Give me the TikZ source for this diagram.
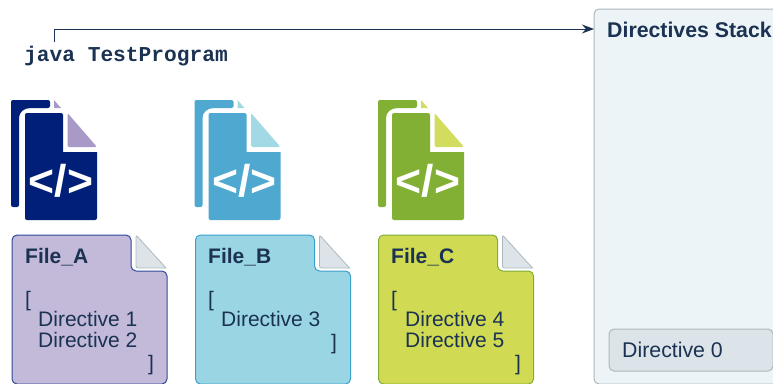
\documentclass[tikz,border=0pt]{standalone}
\usepackage{fontspec}
\setmainfont{Liberation Sans}
\setmonofont{Liberation Mono}
\usetikzlibrary{arrows.meta}
\definecolor{ink}{HTML}{1B3252}
\definecolor{darkA}{HTML}{001F78}\definecolor{lightA}{HTML}{A899C6}
\definecolor{darkB}{HTML}{4FA8CF}\definecolor{lightB}{HTML}{A3D9E4}
\definecolor{darkC}{HTML}{82B035}\definecolor{lightC}{HTML}{D2DC5E}
\definecolor{fillA}{HTML}{C3B9D9}\definecolor{edgeA}{HTML}{2F4A99}
\definecolor{fillB}{HTML}{9AD5E3}\definecolor{edgeB}{HTML}{3AA0CC}
\definecolor{fillC}{HTML}{D0DA52}\definecolor{edgeC}{HTML}{7FAE35}
\definecolor{foldfill}{HTML}{DCE4EA}\definecolor{foldedge}{HTML}{AEB8BC}
\definecolor{stackfill}{HTML}{ECF4F7}
\tikzset{
  txt/.style={anchor=base west,inner sep=0pt,text=ink,font=\fontsize{21}{21}\selectfont},
  head/.style={txt,font=\fontsize{21}{21}\selectfont\bfseries},
  pics/codeicon/.style 2 args={code={
    \fill[#1,rounded corners=2pt] (11,207) -- (11,100) -- (50,100) -- (50,108) -- (33,108)
      .. controls (24,108) and (19,112) .. (19,120) -- (19,207) -- cycle;
    \fill[#2] (54,100) -- (61,108) -- (54,108) -- cycle;
    \fill[#1,rounded corners=2pt] (25,220) -- (25,113) -- (63,113) -- (63,147)
      [sharp corners] -- (63,152) -- (97,152) [rounded corners=2pt] -- (97,220) -- cycle;
    \fill[#2,rounded corners=1.5pt] (67.5,113) -- (97,147) -- (67.5,147) -- cycle;
    \node[inner sep=0pt,text=white,font=\fontsize{44.5}{44.5}\selectfont\bfseries] at (61,181) {</>};
  }},
  pics/docsheet/.style 2 args={code={
    \draw[draw=#2,fill=#1,line width=1pt,rounded corners=5pt]
      (12,384) -- (12,235) -- (131,235) -- (131,271) -- (167,271) -- (167,384) -- cycle;
    \draw[draw=foldedge,fill=foldfill,line width=.8pt,rounded corners=2pt]
      (136,235) [sharp corners] -- (166,268) [rounded corners=2pt] -- (136,268) -- cycle;
  }},
  flow/.style={ink,line width=1pt,-{Stealth[length=12pt,width=9pt]}}
}
\begin{document}
\begin{tikzpicture}[x=1pt,y=-1pt]
\useasboundingbox (0,0) rectangle (773,383);
\clip (0,0) rectangle (773,383);
\pic at (0,0) {codeicon={darkA}{lightA}};
\pic at (183.5,0) {codeicon={darkB}{lightB}};
\pic at (367,0) {codeicon={darkC}{lightC}};
\pic at (0,0) {docsheet={fillA}{edgeA}};
\pic at (183.5,0) {docsheet={fillB}{edgeB}};
\pic at (366.5,0) {docsheet={fillC}{edgeC}};
\draw[draw=foldedge,fill=stackfill,line width=1pt,rounded corners=5pt] (594,9) rectangle (810,384);
\draw[draw=foldedge,fill=foldfill,line width=1pt,rounded corners=5pt] (609,329) rectangle (773,371);
\node[txt,font=\fontsize{21.3}{21.3}\selectfont\bfseries] (stacktitle) at (607,37) {Directives Stack};
\node[txt,font=\fontsize{21.3}{21.3}\selectfont] (dir0) at (622,357) {Directive 0};
\node[anchor=base west,inner sep=0pt,text=ink,font=\fontsize{21.2}{21.2}\selectfont\ttfamily\bfseries] (java) at (24,61) {java TestProgram};
\coordinate (start) at (54,42);
\coordinate (stackin) at (594,29);
\draw[flow] (start) |- (stackin);
\node[head] (fa) at (25,263) {File\_A};
\node[txt] (oa) at (25,306) {[};
\node[txt] (d1) at (38,326) {Directive 1};
\node[txt] (d2) at (38,347) {Directive 2};
\node[txt] (ca) at (148,370) {]};
\node[head] (fb) at (208,263) {File\_B};
\node[txt] (ob) at (208,306) {[};
\node[txt] (d3) at (221,326) {Directive 3};
\node[txt] (cb) at (331,349) {]};
\node[head] (fc) at (391,263) {File\_C};
\node[txt] (oc) at (391,306) {[};
\node[txt] (d4) at (405,326) {Directive 4};
\node[txt] (d5) at (405,347) {Directive 5};
\node[txt] (cc) at (515,370) {]};
\end{tikzpicture}
\end{document}
